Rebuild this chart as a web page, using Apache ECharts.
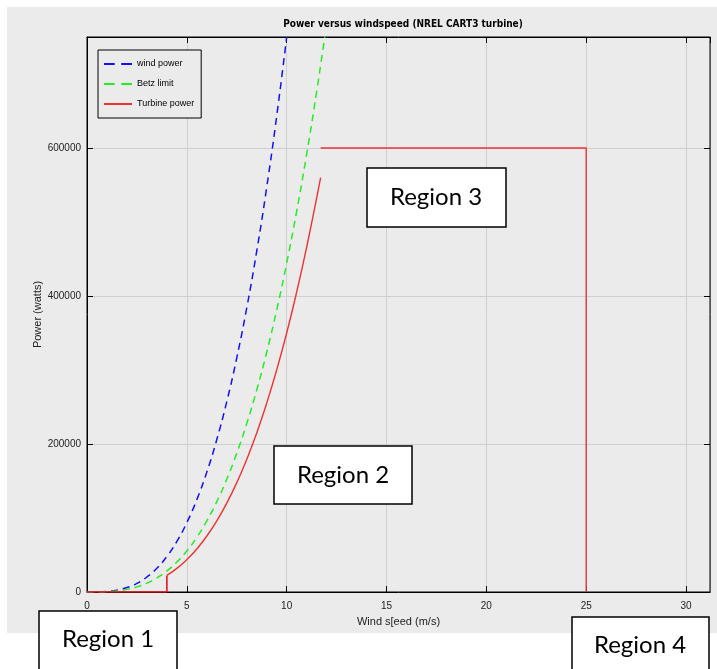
<!DOCTYPE html>
<html>
<head>
<meta charset="utf-8">
<script src="https://cdn.jsdelivr.net/npm/echarts@6/dist/echarts.min.js"></script>
<style>html,body{margin:0;padding:0;background:#fff;}#c{width:717px;height:669px;}</style>
</head>
<body>
<div id="c"></div>
<script>
// Data
var windSpeed = [0,0.5,1,1.5,2,2.5,3,3.5,4,4.5,5,5.5,6,6.5,7,7.5,8,8.5,9,9.5,10];
var windPower = [0,100,750,2500,6000,11700,20300,32200,48000,68300,93800,124800,162000,206000,257300,316400,384000,460600,546800,643000,750000];
var betzSpeed = [0,0.5,1,1.5,2,2.5,3,3.5,4,4.5,5,5.5,6,6.5,7,7.5,8,8.5,9,9.5,10,10.5,11,11.5,12];
var betzPower = [0,60,440,1500,3560,6940,12000,19060,28440,40500,55560,73940,96000,122060,152440,187500,227560,272940,324000,381060,444440,514500,591560,675940,768000];
var startSpeed = [0,4,4];
var startPower = [0,0,22400];
var turbineSpeed = [4,4.5,5,5.5,6,6.5,7,7.5,8,8.5,9,9.5,10,10.5,11,11.5,11.7];
var turbinePower = [22400,31900,43800,58200,75600,96100,120100,147700,179200,214900,255200,300100,350000,405200,465900,532300,560000];
var ratedSpeed = [11.7,25,25];
var ratedPower = [600000,600000,0];
var regionLabels = ['Region 1','Region 2','Region 3','Region 4'];

function pairs(xs, ys){ return xs.map(function(x,i){ return [x, ys[i]]; }); }

var chart = echarts.init(document.getElementById('c'));
var axisFont = {fontFamily:'Liberation Sans', fontSize:10, color:'#222'};
function regionBox(x, y, w, h, label, cx, cy){
  return [
    {type:'rect', z:100, shape:{x:x, y:y, width:w, height:h}, style:{fill:'#fff', stroke:'#000', lineWidth:1.5}},
    {type:'text', z:101, x:cx, y:cy, style:{text:label, fontFamily:'Lato', fontSize:24, fill:'#000', align:'center', verticalAlign:'middle'}}
  ];
}
var dashIcon = 'path://M0,0h10v2h-10z M16,0h10v2h-10z';
var solidIcon = 'path://M0,0h26v2h-26z';
var tick = {show:true, inside:true, length:6, lineStyle:{color:'#000', width:1}};
var option = {
  backgroundColor:'#fff',
  animation:false,
  title:{text:'Power versus windspeed (NREL CART3 turbine)', left:398, textAlign:'center', top:14,
    textStyle:{fontFamily:"'DejaVu Sans Condensed', 'Liberation Sans', sans-serif", fontWeight:'bold', fontSize:10, color:'#000'}},
  legend:{orient:'vertical', left:98, top:50, itemWidth:28, itemHeight:2, itemGap:8, symbolKeepAspect:false,
    padding:[8,7,8,6], borderColor:'#000', borderWidth:1, backgroundColor:'#ebebeb',
    textStyle:{fontFamily:'Liberation Sans', fontSize:9, color:'#000', lineHeight:12},
    data:[{name:'wind power', icon:dashIcon},{name:'Betz limit', icon:dashIcon},{name:'Turbine power', icon:solidIcon}]},
  grid:{left:87, top:37, right:7, bottom:77, show:true, borderColor:'#000', borderWidth:1, backgroundColor:'transparent'},
  xAxis:[
    {type:'value', min:0, max:31.2, interval:5, position:'bottom',
     name:'Wind s[eed (m/s)', nameLocation:'middle', nameGap:24, nameMoveOverlap:false,
     nameTextStyle:{fontFamily:'Liberation Sans', fontSize:11, color:'#222'},
     axisLine:{show:true, onZero:false, lineStyle:{color:'#000', width:1}}, axisTick:tick,
     axisLabel:Object.assign({margin:9, showMaxLabel:false}, axisFont),
     splitLine:{show:true, lineStyle:{color:'#cfcfcf', width:1}}},
    {type:'value', min:0, max:31.2, interval:5, position:'top',
     axisLine:{show:true, onZero:false, lineStyle:{color:'#000', width:1}}, axisTick:tick,
     axisLabel:{show:false}, splitLine:{show:false}}
  ],
  yAxis:[
    {type:'value', min:0, max:750000, interval:200000, position:'left',
     name:'Power (watts)', nameLocation:'middle', nameGap:44, nameMoveOverlap:false,
     nameTextStyle:{fontFamily:'Liberation Sans', fontSize:11, color:'#222'},
     axisLine:{show:true, onZero:false, lineStyle:{color:'#000', width:1}}, axisTick:tick,
     axisLabel:Object.assign({margin:6, showMaxLabel:false, formatter:function(v){ return String(v); }}, axisFont),
     splitLine:{show:true, lineStyle:{color:'#cfcfcf', width:1}}},
    {type:'value', min:0, max:750000, interval:200000, position:'right',
     axisLine:{show:true, onZero:false, lineStyle:{color:'#555', width:1}}, axisTick:tick,
     axisLabel:{show:false}, splitLine:{show:false}}
  ],
  series:[
    {name:'wind power', type:'line', smooth:true, symbol:'none', data:pairs(windSpeed, windPower),
     lineStyle:{color:'#1010ff', width:1.5, type:[7,5]}, itemStyle:{color:'#1010ff'}, z:3},
    {name:'Betz limit', type:'line', smooth:true, symbol:'none', data:pairs(betzSpeed, betzPower),
     lineStyle:{color:'#22ee22', width:1.5, type:[7,5]}, itemStyle:{color:'#22ee22'}, z:3},
    {name:'Turbine power', type:'line', symbol:'none', data:pairs(startSpeed, startPower),
     lineStyle:{color:'#e8141e', width:1.6}, itemStyle:{color:'#f03232'}, z:4},
    {name:'Turbine power', type:'line', smooth:true, symbol:'none', data:pairs(turbineSpeed, turbinePower),
     lineStyle:{color:'#f03232', width:1.4}, itemStyle:{color:'#f03232'}, z:4},
    {name:'Turbine power', type:'line', symbol:'none', data:pairs(ratedSpeed, ratedPower),
     lineStyle:{color:'#f03232', width:1.4}, itemStyle:{color:'#f03232'}, z:4},
    {type:'line', xAxisIndex:1, yAxisIndex:1, data:[], symbol:'none', silent:true}
  ],
  graphic:[
    {type:'rect', z:-100, silent:true, shape:{x:7, y:7, width:710, height:626}, style:{fill:'#ebebeb'}}
  ].concat(
    regionBox(39, 611, 138, 70, regionLabels[0], 108, 639),
    regionBox(274, 446, 138, 58, regionLabels[1], 343, 475),
    regionBox(367, 168, 139, 59, regionLabels[2], 436, 197),
    regionBox(572, 617, 137, 70, regionLabels[3], 640, 645)
  )
};
chart.setOption(option);
</script>
</body>
</html>
